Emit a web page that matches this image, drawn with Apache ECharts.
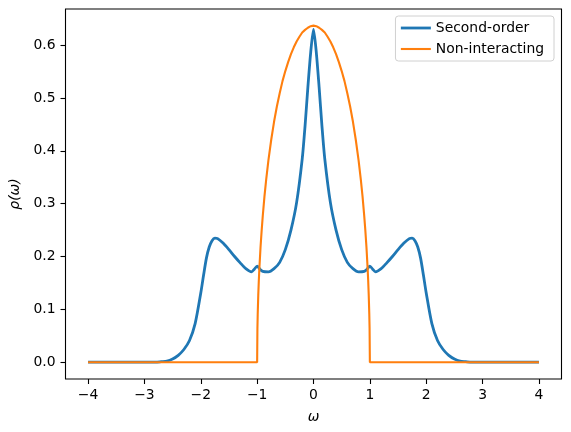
<!DOCTYPE html>
<html>
<head>
<meta charset="utf-8">
<script src="https://cdn.jsdelivr.net/npm/echarts@6/dist/echarts.min.js"></script>
<style>
  html, body { margin: 0; padding: 0; background: #fff; }
  #chart { width: 571px; height: 432px; }
</style>
</head>
<body>
<div id="chart"></div>
<script>
// second-order spectral function
var soOmega = [-4.0, -3.5, -3.0, -2.8, -2.7, -2.6, -2.5, -2.4, -2.3, -2.2, -2.1, -2.0, -1.95, -1.9, -1.85, -1.8, -1.75, -1.7, -1.6, -1.5, -1.4, -1.3, -1.2, -1.1, -1.05, -1.0, -0.95, -0.9, -0.8, -0.7, -0.6, -0.5, -0.4, -0.3, -0.2, -0.15, -0.1, -0.05, 0.0,
  0.05, 0.1, 0.15, 0.2, 0.3, 0.4, 0.5, 0.6, 0.7, 0.8, 0.9, 0.95, 1.0, 1.05, 1.1, 1.2, 1.3, 1.4, 1.5, 1.6, 1.7, 1.75, 1.8, 1.85, 1.9, 1.95, 2.0, 2.1, 2.2, 2.3, 2.4, 2.5, 2.6, 2.7, 2.8, 3.0, 3.5, 4.0];
var soRho = [0.000, 0.000, 0.000, 0.000, 0.001, 0.002, 0.006, 0.013, 0.024, 0.041, 0.073, 0.131, 0.165, 0.197, 0.218, 0.230, 0.235, 0.234, 0.225, 0.213, 0.200, 0.188, 0.177, 0.171, 0.176, 0.182, 0.176, 0.172, 0.171, 0.177, 0.189, 0.213, 0.250, 0.302, 0.385, 0.447, 0.520, 0.586, 0.630,
  0.586, 0.520, 0.447, 0.385, 0.302, 0.250, 0.213, 0.189, 0.177, 0.171, 0.172, 0.176, 0.182, 0.176, 0.171, 0.177, 0.188, 0.200, 0.213, 0.225, 0.234, 0.235, 0.230, 0.218, 0.197, 0.165, 0.131, 0.073, 0.041, 0.024, 0.013, 0.006, 0.002, 0.001, 0.000, 0.000, 0.000, 0.000];

// non-interacting (semicircle) density
var niOmega = [-4.0, -3.0, -2.0, -1.5, -1.0, -0.995, -0.99, -0.98, -0.97, -0.96, -0.94, -0.92, -0.9, -0.87, -0.84, -0.8, -0.75, -0.7, -0.65, -0.6, -0.55, -0.5, -0.45, -0.4, -0.35, -0.3, -0.25, -0.2, -0.15, -0.1, -0.05, 0.0,
  0.05, 0.1, 0.15, 0.2, 0.25, 0.3, 0.35, 0.4, 0.45, 0.5, 0.55, 0.6, 0.65, 0.7, 0.75, 0.8, 0.84, 0.87, 0.9, 0.92, 0.94, 0.96, 0.97, 0.98, 0.99, 0.995, 1.0, 1.5, 2.0, 3.0, 4.0];
var niRho = [0, 0, 0, 0, 0, 0.064, 0.090, 0.127, 0.155, 0.178, 0.217, 0.249, 0.277, 0.314, 0.345, 0.382, 0.421, 0.455, 0.484, 0.509, 0.532, 0.551, 0.568, 0.583, 0.596, 0.607, 0.616, 0.624, 0.629, 0.633, 0.636, 0.637,
  0.636, 0.633, 0.629, 0.624, 0.616, 0.607, 0.596, 0.583, 0.568, 0.551, 0.532, 0.509, 0.484, 0.455, 0.421, 0.382, 0.345, 0.314, 0.277, 0.249, 0.217, 0.178, 0.155, 0.127, 0.090, 0.064, 0, 0, 0, 0, 0];

var xTicks = [-4, -3, -2, -1, 0, 1, 2, 3, 4];
var yTicks = [0, 0.1, 0.2, 0.3, 0.4, 0.5, 0.6];

var font = 'DejaVu Sans';

var pairs = function(xs, ys) {
  return xs.map(function(x, i) { return [x, ys[i]]; });
};

var myChart = echarts.init(document.getElementById('chart'), null, { renderer: 'canvas' });

var option = {
  backgroundColor: '#fff',
  animation: false,
  grid: {
    left: 65.5, right: 9.5, top: 9, bottom: 53,
    show: true, borderColor: '#000', borderWidth: 1.1
  },
  legend: {
    orient: 'vertical',
    right: 17, top: 16,
    padding: [5, 10, 5, 4],
    itemGap: 7,
    itemWidth: 30, itemHeight: 14,
    backgroundColor: 'rgba(255,255,255,0.8)',
    borderColor: '#d0d0d0', borderWidth: 1, borderRadius: 3,
    itemStyle: { opacity: 0, borderWidth: 0 },
    textStyle: { fontFamily: font, fontSize: 13.9, color: '#000' },
    data: [
      { name: 'Second-order', lineStyle: { width: 2.8 } },
      { name: 'Non-interacting', lineStyle: { width: 2.1 } }
    ]
  },
  xAxis: {
    type: 'value',
    min: -4.4, max: 4.4,
    name: 'ω',
    nameLocation: 'middle',
    nameGap: 31,
    nameTextStyle: { fontFamily: font, fontSize: 13.9, fontStyle: 'italic', color: '#000' },
    splitLine: { show: false },
    axisLine: { show: false, onZero: false },
    axisTick: { show: true, length: 5, customValues: xTicks, lineStyle: { color: '#000', width: 1.1 } },
    axisLabel: {
      customValues: xTicks, margin: 9,
      fontFamily: font, fontSize: 13.9, color: '#000',
      formatter: function(v) { return String(v).replace('-', '\u2212'); }
    }
  },
  yAxis: {
    type: 'value',
    min: -0.0318, max: 0.6685,
    name: 'ρ(ω)',
    nameLocation: 'middle',
    nameGap: 42,
    nameTextStyle: { fontFamily: font, fontSize: 13.9, fontStyle: 'italic', color: '#000' },
    splitLine: { show: false },
    axisLine: { show: false, onZero: false },
    axisTick: { show: true, length: 5, customValues: yTicks, lineStyle: { color: '#000', width: 1.1 } },
    axisLabel: {
      customValues: yTicks, margin: 10,
      fontFamily: font, fontSize: 13.9, color: '#000',
      formatter: function(v) { return v.toFixed(1); }
    }
  },
  series: [{
    name: 'Second-order',
    type: 'line',
    data: pairs(soOmega, soRho),
    symbol: 'none',
    smooth: 0.25,
    lineStyle: { color: '#1f77b4', width: 2.8 },
    itemStyle: { color: '#1f77b4' },
    z: 2
  }, {
    name: 'Non-interacting',
    type: 'line',
    data: pairs(niOmega, niRho),
    symbol: 'none',
    lineStyle: { color: '#ff7f0e', width: 2.1 },
    itemStyle: { color: '#ff7f0e' },
    z: 3
  }]
};

myChart.setOption(option);
</script>
</body>
</html>
